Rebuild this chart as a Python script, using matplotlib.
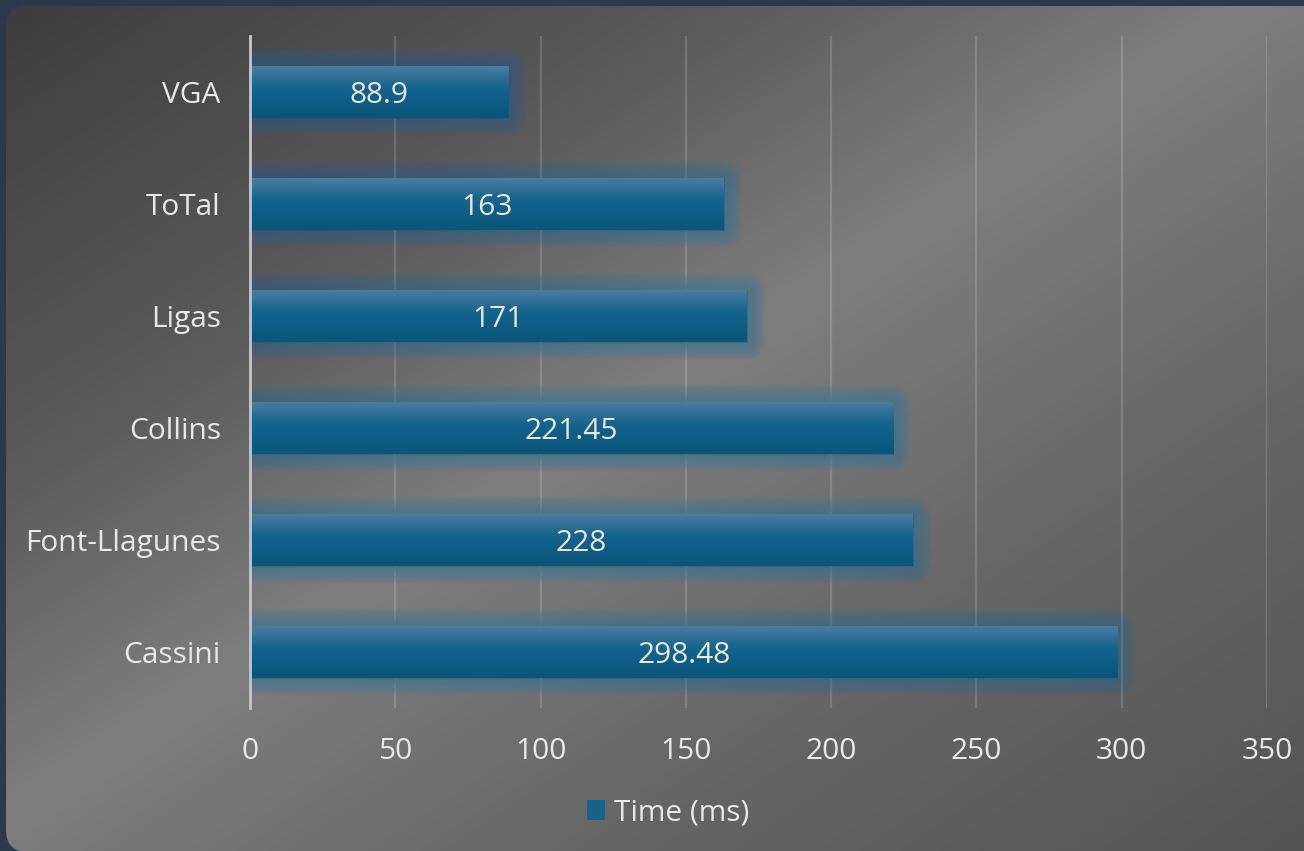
import numpy as np
import matplotlib
matplotlib.use("Agg")
import matplotlib.pyplot as plt
import matplotlib.patheffects as pe
from matplotlib.patches import FancyBboxPatch, Patch
from matplotlib.colors import LinearSegmentedColormap

# Data
categories = ["VGA", "ToTal", "Ligas", "Collins", "Font-Llagunes", "Cassini"]
times_ms = [88.9, 163, 171, 221.45, 228, 298.48]
value_labels = ["88.9", "163", "171", "221.45", "228", "298.48"]
x_ticks = [0, 50, 100, 150, 200, 250, 300, 350]
series_name = "Time (ms)"

W, H = 1304, 851
FONT = "Open Sans"
FS = 21.5
TEXT_COLOR = "#e8e8e8"

plt.rcParams["font.family"] = [FONT, "DejaVu Sans"]

fig = plt.figure(figsize=(W / 100, H / 100), dpi=100)
fig.patch.set_facecolor("#2b3a4b")

# Rounded panel with a diagonal grey gradient
bg = fig.add_axes([0, 0, 1, 1], zorder=-10)
bg.set_xlim(0, W)
bg.set_ylim(H, 0)
bg.axis("off")
yy, xx = np.mgrid[0:H:2, 0:W:2]
t = (xx / W + yy / H) / 2
panel_cmap = LinearSegmentedColormap.from_list(
    "panel",
    [(0.0, "#3d3d3d"), (0.28, "#5a5a5a"), (0.48, "#7e7e7e"),
     (0.72, "#666666"), (1.0, "#545454")])
bg_img = bg.imshow(t, cmap=panel_cmap, vmin=0, vmax=1, extent=(0, W, H, 0),
                   interpolation="bilinear", aspect="auto")
panel = FancyBboxPatch((6, 6), W + 40, H - 5, boxstyle="round,pad=0,rounding_size=22",
                       transform=bg.transData, facecolor="none", edgecolor="none")
bg.add_patch(panel)
bg_img.set_clip_path(panel)

# Plot area
ax = fig.add_axes([250 / W, 1 - 708 / H, (1267 - 250) / W, (708 - 36) / H])
ax.set_facecolor("none")
ypos = np.arange(len(categories))

# Soft blue glow around each bar
glow = [pe.Stroke(linewidth=lw, foreground="#2e76a8", alpha=0.026,
                  joinstyle="round")
        for lw in range(26, 0, -1)] + [pe.Normal()]
bars = ax.barh(ypos, times_ms, height=0.47, color="#14628a", zorder=3,
               path_effects=glow)

# Vertical gradient inside each bar
bar_cmap = LinearSegmentedColormap.from_list(
    "bar", [(0.0, "#4b7ea1"), (0.12, "#3f7699"), (0.4, "#17658e"),
            (0.7, "#0e5d85"), (1.0, "#0a5579")])
grad = np.linspace(0, 1, 128).reshape(-1, 1)
for b in bars:
    x0, y0, w, h = b.get_x(), b.get_y(), b.get_width(), b.get_height()
    im = ax.imshow(grad, cmap=bar_cmap, vmin=0, vmax=1,
                   extent=(x0, x0 + w, y0 + h, y0), aspect="auto",
                   interpolation="bilinear", zorder=4)
    im.set_clip_path(b)

for y, v, lab in zip(ypos, times_ms, value_labels):
    ax.text(v / 2, y, lab, ha="center", va="center_baseline", color=TEXT_COLOR,
            fontsize=FS, zorder=5)

ax.set_xlim(0, 350)
ax.set_ylim(len(categories) - 0.5, -0.5)
ax.set_xticks(x_ticks)
ax.set_xticklabels([str(v) for v in x_ticks])
ax.set_yticks(ypos)
ax.set_yticklabels(categories)
ax.xaxis.grid(True, color="white", alpha=0.16, linewidth=1.6)
ax.set_axisbelow(True)
for side in ["top", "right", "bottom"]:
    ax.spines[side].set_visible(False)
ax.spines["left"].set_color("#c6c6c6")
ax.spines["left"].set_linewidth(2)
ax.spines["left"].set_zorder(6)
ax.tick_params(axis="both", length=0, labelcolor=TEXT_COLOR, labelsize=FS)
ax.tick_params(axis="y", pad=21)
ax.tick_params(axis="x", pad=21)

fig.legend(handles=[Patch(facecolor="#17628a", label=series_name)],
           loc="center", bbox_to_anchor=(668 / W, 1 - 813 / H), frameon=False,
           handlelength=0.62, handleheight=0.62, handletextpad=0.28,
           fontsize=FS, labelcolor=TEXT_COLOR)

fig.savefig("out.png", dpi=100, facecolor=fig.get_facecolor())
